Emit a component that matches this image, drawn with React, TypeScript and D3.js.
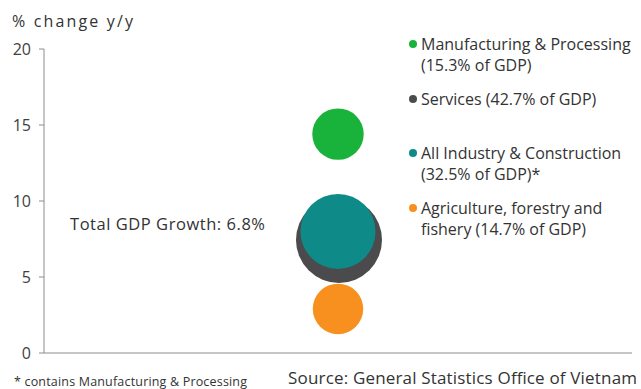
import React from "react";
import * as d3 from "d3";

const sectors = ["Services", "All Industry & Construction", "Manufacturing & Processing", "Agriculture, forestry and fishery"];
const growth = [7.44, 8.0, 14.4, 2.9];
const gdpShare = [42.7, 32.5, 15.3, 14.7];
const colors = ["#4b4b4d", "#0e8a89", "#19b23b", "#f7901e"];
const yTicks = [0, 5, 10, 15, 20];

const legendLines: string[][] = [
  ["Manufacturing & Processing", "(15.3% of GDP)"],
  ["Services (42.7% of GDP)"],
  ["All Industry & Construction", "(32.5% of GDP)*"],
  ["Agriculture, forestry and", "fishery (14.7% of GDP)"],
];
const legendColors = ["#19b23b", "#4b4b4d", "#0e8a89", "#f7901e"];
const legendTops = [44, 99, 153, 208];

const W = 641;
const H = 389;
const FONT = "'Open Sans', sans-serif";

export default function App() {
  const x0 = 44;
  const x1 = 632;
  const y = d3.scaleLinear().domain([0, 20]).range([353, 49]);
  const x = d3.scaleLinear().domain([0, 2]).range([x0, x1]);
  const r = d3.scaleSqrt().domain([0, 42.7]).range([0, 43]);

  return (
    <svg width={W} height={H} style={{ position: "absolute", left: 0, top: 0, background: "#fff" }}>
      <rect width={W} height={H} fill="#fff" />
      <text x={12} y={27} fontFamily={FONT} fontSize={16} fill="#333" textLength={121}>% change y/y</text>
      {yTicks.map((t) => (
        <g key={t}>
          <line x1={x0 - 5} x2={x0} y1={y(t)} y2={y(t)} stroke="#8c8c8c" strokeWidth={1} />
          <text x={31} y={y(t)} dy="0.35em" textAnchor="end" fontFamily={FONT} fontSize={16} fill="#404040">{t}</text>
        </g>
      ))}
      <line x1={x0} x2={x0} y1={y(20)} y2={y(0)} stroke="#8c8c8c" strokeWidth={1} />
      <line x1={x0} x2={x1} y1={y(0)} y2={y(0)} stroke="#8c8c8c" strokeWidth={1} />
      {sectors.map((s, i) => (
        <circle key={s} cx={x(1) + (i === 0 ? 1 : 0)} cy={y(growth[i])} r={r(gdpShare[i])} fill={colors[i]} />
      ))}
      <text x={70} y={224} dy="0.35em" fontFamily={FONT} fontSize={16.5} fill="#333" textLength={195}>Total GDP Growth: 6.8%</text>
      {legendLines.map((lines, i) => (
        <g key={i}>
          <circle cx={413} cy={legendTops[i]} r={4} fill={legendColors[i]} />
          {lines.map((l, j) => (
            <text key={j} x={421} y={legendTops[i] + j * 21} dy="0.35em" fontFamily={FONT} fontSize={16} fill="#333">{l}</text>
          ))}
        </g>
      ))}
      <text x={14} y={386} fontFamily={FONT} fontSize={12.5} fill="#333" textLength={233}>* contains Manufacturing &amp; Processing</text>
      <text x={288} y={384} fontFamily={FONT} fontSize={17} fill="#333" textLength={349}>Source: General Statistics Office of Vietnam</text>
    </svg>
  );
}
